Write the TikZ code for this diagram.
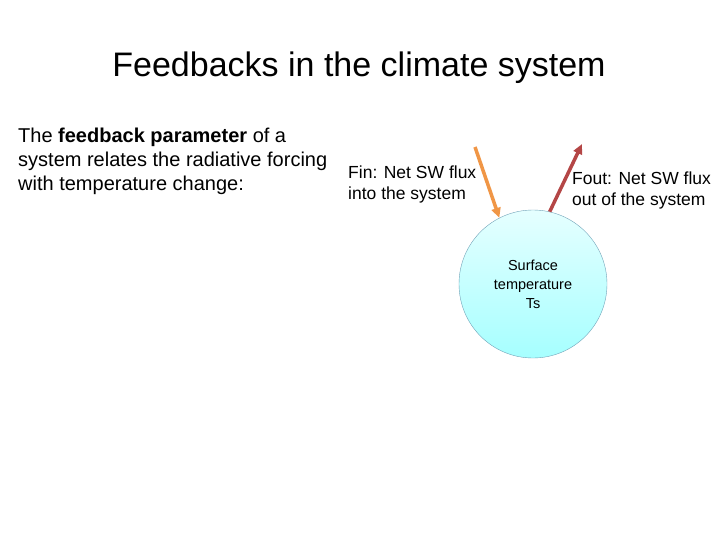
\documentclass[tikz,border=0pt]{standalone}
\usepackage{fontspec}
\setmainfont{Liberation Sans}
\usetikzlibrary{arrows.meta}
\definecolor{inorange}{RGB}{240,150,70}
\definecolor{outred}{RGB}{180,70,70}
\begin{document}
\begin{tikzpicture}[x=1pt,y=-1pt,
  lbl/.style={anchor=north west,align=left,inner sep=0pt},
  arr/.style={line width=3.5pt,-{Triangle[length=10pt,width=9pt]}}]
\useasboundingbox (0,0) rectangle (720,540);
\node[font=\fontsize{34}{38}\selectfont] (title) at (359,68) {Feedbacks in the climate system};
\node[lbl,font=\fontsize{20}{24}\selectfont] (desc) at (18,128) {The \textbf{feedback parameter} of a\\system relates the radiative forcing\\with temperature change:};
\node[lbl,font=\fontsize{17.5}{21}\selectfont] (fin) at (348,166) {Fin: Net SW flux\\into the system};
\node[lbl,font=\fontsize{17.5}{21}\selectfont] (fout) at (572,172) {Fout: Net SW flux\\out of the system};
\node[circle,draw=cyan!40!gray,minimum size=148pt,inner sep=0pt,
  top color=cyan!10,bottom color=cyan!35,align=center,font=\fontsize{14.5}{19}\selectfont] (ts) at (533,284)
  {Surface\\temperature\\Ts};
\coordinate (a1) at (475,147);
\coordinate (a2) at (582,144);
\draw[arr,draw=inorange,fill=inorange] (a1) -- (ts.117);
\draw[arr,draw=outred,fill=outred] (ts.77) -- (a2);
\end{tikzpicture}
\end{document}
